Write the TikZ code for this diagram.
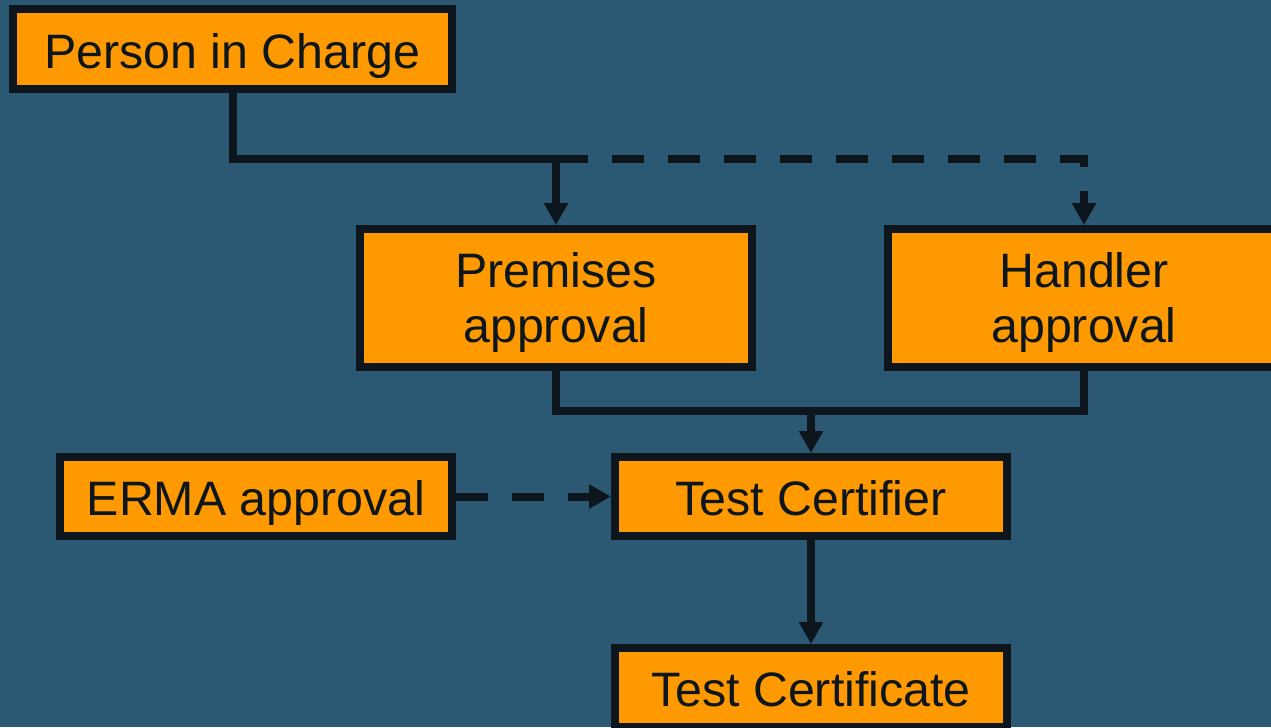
\documentclass[tikz,border=0pt]{standalone}
\usepackage{fontspec}
\setmainfont{Liberation Sans}
\usetikzlibrary{arrows.meta,positioning}

\definecolor{slate}{HTML}{2B5872}
\definecolor{amber}{HTML}{FF9900}
\definecolor{ink}{HTML}{0D151D}

\begin{document}
\begin{tikzpicture}[
    >={Triangle[width=0.46cm, length=0.44cm]},
    stage/.style={rectangle, draw=ink, fill=amber, line width=0.16cm, minimum width=7.84cm, minimum height=1.58cm, inner sep=0pt, align=center, text=ink, font=\fontsize{27.5}{31.3}\selectfont, text height=22pt, text depth=0pt},
    approval/.style={stage, minimum height=2.76cm, text height=51pt},
    link/.style={draw=ink, line width=0.16cm},
    arrow/.style={link, ->},
    optional/.style={dash pattern=on 0.64cm off 0.48cm}
]
\useasboundingbox (0,0) rectangle (25.42,-14.54);
\clip (0,0) rectangle (25.42,-14.54);
\fill[slate] (0,0) rectangle (25.42,-14.54);

% Main boxes
\node[stage, minimum width=8.78cm, minimum height=1.6cm] (pic) at (4.65,-0.98) {Person in Charge};
\node[approval] (premises) at (11.12,-5.96) {Premises\\approval};
\node[approval, right=2.56cm of premises] (handler) {Handler\\approval};
\node[stage] (certifier) at (16.22,-9.93) {Test Certifier};
\node[stage, left=3.1cm of certifier] (erma) {ERMA approval};
\node[stage, below=2.08cm of certifier] (certificate) {Test Certificate};

% Junctions
\coordinate (fork) at ([yshift=-1.32cm]pic.south);
\coordinate (merge) at ([yshift=-0.8cm]premises.south);

% Arrows
\draw[arrow] (pic.south) -- (fork) -| (premises.north);
\draw[arrow, optional] (fork -| premises.north) -| (handler.north);
\draw[link] (premises.south) -- (merge) -| (handler.south);
\draw[arrow] (merge -| certifier.north) -- (certifier.north);
\draw[arrow, optional] (erma) -- (certifier);
\draw[arrow] (certifier) -- (certificate);

\end{tikzpicture}
\end{document}
